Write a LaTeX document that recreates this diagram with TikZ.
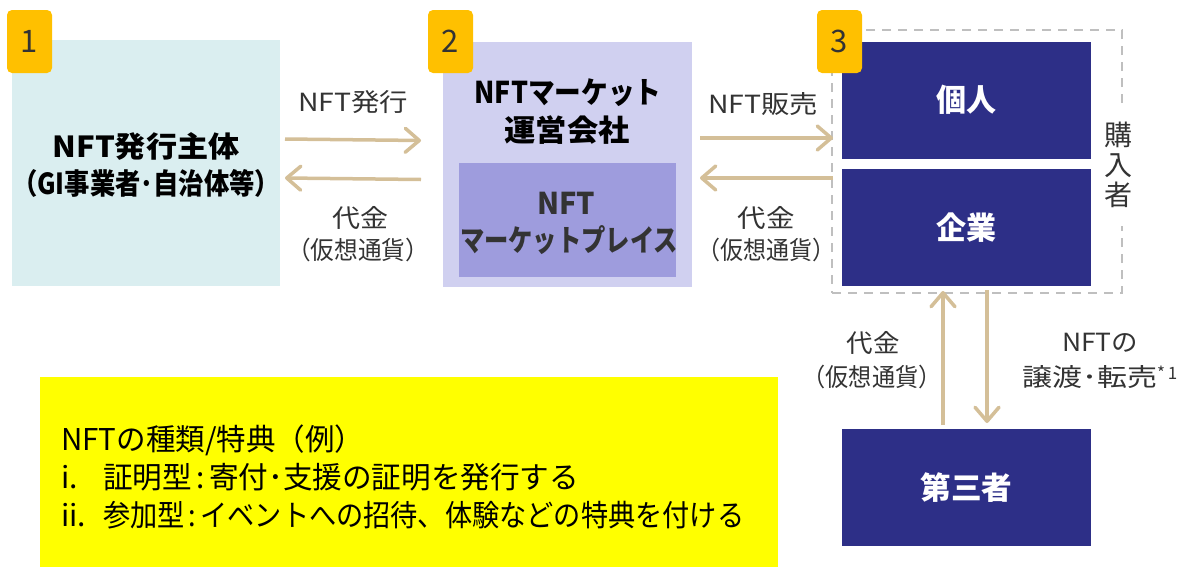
\documentclass[tikz,border=0pt]{standalone}
\usepackage{fontspec}
\setmainfont{Noto Sans CJK JP}
\usetikzlibrary{arrows.meta,calc}
\definecolor{boxone}{HTML}{DAEEF0}
\definecolor{boxtwo}{HTML}{D0D0F0}
\definecolor{inner}{HTML}{9E9CDD}
\definecolor{navy}{HTML}{2D2F87}
\definecolor{badge}{HTML}{FFC000}
\definecolor{tan}{HTML}{D4BF98}
\definecolor{dgrey}{HTML}{BFBFBF}
\definecolor{txt}{HTML}{333333}
\definecolor{yel}{HTML}{FFFF00}
\newcommand{\W}[2]{\resizebox{#1pt}{\height}{#2}}
\newcommand{\fs}[1]{\fontsize{#1}{#1}\selectfont}
\begin{document}
\begin{tikzpicture}[x=1pt,y=-1pt,
  area/.style={inner sep=0pt, outer sep=0pt, draw=none},
  navybox/.style={area, fill=navy, minimum width=249, minimum height=117, text=white, font=\fs{31}\bfseries},
  badgebox/.style={area, fill=badge, rounded corners=5pt, minimum width=45, minimum height=63, text=txt, font=\fs{31}},
  lbl/.style={inner sep=0pt, text=txt, font=\fs{25}},
  ylbl/.style={inner sep=0pt, text=black, font=\fs{30}, anchor=west},
  arr/.style={draw=tan, line width=3.5pt, -{Straight Barb[length=14pt,width=24pt,line cap=round,line join=round]}, line cap=butt}
]
\useasboundingbox (0,0) rectangle (1191,573);

% main boxes
\node[area, fill=boxone, minimum width=268, minimum height=246] (b1) at (146,163) {};
\node[area, fill=boxtwo, minimum width=249, minimum height=245] (b2) at (567.5,164.5) {};
\node[area, fill=inner, minimum width=217, minimum height=114] (mp) at (567.5,220) {};
\node[area, draw=dgrey, line width=2.5pt, dash pattern=on 9pt off 7pt, minimum width=290, minimum height=263] (buyers) at (977,161.5) {};
\node[navybox] (kojin) at (966.5,100) {\W{60}{個人}};
\node[navybox] (kigyo) at (966.5,227.5) {\W{60}{企業}};
\node[navybox, minimum height=117] (third) at (966.5,487.5) {\W{92}{第三者}};
\node[area, fill=yel, minimum width=738, minimum height=190] (note) at (409,472) {};

% vertical label on dashed border
\node[inner sep=0pt, fill=white, minimum width=30, minimum height=122, text=txt, font=\fs{28}, align=center] (konyu) at (1118,165) {購\\[2pt]入\\[2pt]者};

% badges
\node[badgebox] (n1) at (29.5,41.5) {1};
\node[badgebox] (n2) at (450.5,41.5) {2};
\node[badgebox] (n3) at (839.5,41.5) {3};

% box texts
\node[inner sep=0pt, font=\fs{29}\bfseries] (t1a) at (146,146) {\W{187}{NFT発行主体}};
\node[inner sep=0pt, font=\fs{29}\bfseries] (t1b) at (146,183) {\W{268}{（GI事業者･自治体等）}};
\node[inner sep=0pt, font=\fs{30}\bfseries] (t2a) at (568,93) {\W{187}{NFTマーケット}};
\node[inner sep=0pt, font=\fs{30}\bfseries] (t2b) at (567,130) {\W{125}{運営会社}};
\node[inner sep=0pt, font=\fs{30}\bfseries, text=txt] (t3a) at (566,203) {\W{58}{NFT}};
\node[inner sep=0pt, font=\fs{30}\bfseries, text=txt] (t3b) at (569,240) {\W{218}{マーケットプレイス}};

% arrows left
\draw[arr] ($(b1.east)+(5,-24)$) -- ($(b2.west)+(-22,-24)$);
\draw[arr] ($(b2.west)+(-22,15)$) -- ($(b1.east)+(5,15)$);
\node[lbl] (l1) at (353,102) {\W{110}{NFT発行}};
\node[lbl] (l2) at (360,218) {\W{56}{代金}};
\node[lbl] (l3) at (358,250) {\W{142}{（仮想通貨）}};

% arrows right
\draw[arr] ($(b2.east)+(8,-26.5)$) -- ($(buyers.west)+(1,-23.5)$);
\draw[arr] ($(buyers.west)+(1,16.5)$) -- ($(b2.east)+(8,13.5)$);
\node[lbl] (r1) at (763,104) {\W{110}{NFT販売}};
\node[lbl] (r2) at (766,218) {\W{57}{代金}};
\node[lbl] (r3) at (766,250) {\W{138}{（仮想通貨）}};

% vertical arrows
\draw[arr] ($(third.north)+(-23.5,-4)$) -- ($(buyers.south)+(-34,-2)$);
\draw[arr] ($(buyers.south)+(10,-3)$) -- ($(third.north)+(20.5,-6)$);
\node[lbl] (d1) at (873,343) {\W{53}{代金}};
\node[lbl] (d2) at (872,377) {\W{139}{（仮想通貨）}};
\node[lbl] (d3) at (1100,343) {\W{76}{NFTの}};
\node[lbl, anchor=west] (d4) at (1022,377) {\W{135}{譲渡･転売}\raisebox{0.3em}{\fs{17}*\,1}};

% note text
\node[ylbl] (y1) at (61,440) {\W{303}{NFTの種類/特典（例）}};
\node[ylbl] (y2a) at (61,477) {i.};
\node[ylbl] (y2b) at (103,477) {\W{476}{証明型\hspace{0.15em}:\hspace{0.15em}寄付･支援の証明を発行する}};
\node[ylbl] (y3a) at (61,515) {ii.};
\node[ylbl] (y3b) at (103,515) {\W{641}{参加型\hspace{0.15em}:\hspace{0.15em}イベントへの招待、体験などの特典を付ける}};
\end{tikzpicture}
\end{document}
